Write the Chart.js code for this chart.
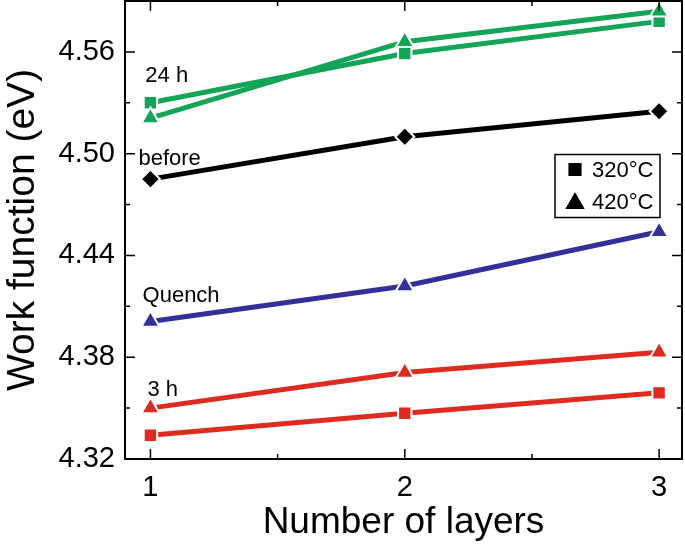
<!DOCTYPE html>
<html>
<head>
<meta charset="utf-8">
<script src="https://cdn.jsdelivr.net/npm/chart.js@4.4.0/dist/chart.umd.min.js"></script>
<style>
  html, body { margin: 0; padding: 0; background: #fff; }
  #wrap { width: 685px; height: 545px; }
</style>
</head>
<body>
<div id="wrap"><canvas id="wfChart"></canvas></div>
<script>
var layers = [1, 2, 3];
var xTicks = [1, 2, 3];
var yTicks = [4.32, 4.38, 4.44, 4.50, 4.56];

var h24_320 = [4.530, 4.559, 4.578];
var h24_420 = [4.521, 4.566, 4.584];
var before = [4.485, 4.510, 4.525];
var quench = [4.401, 4.422, 4.454];
var h3_420 = [4.350, 4.371, 4.383];
var h3_320 = [4.334, 4.347, 4.359];

// curve labels (text, x value, y value)
var curveLabels = [
    ['24 h', 0.98, 4.546],
    ['before', 0.953, 4.497],
    ['Quench', 0.969, 4.416],
    ['3 h', 0.988, 4.361]
];

var GREEN = '#13a457';
var BLUE = '#33309a';
var RED = '#dd2b1f';
var FONT = '"Liberation Sans", Arial, sans-serif';

function series(values, color, shape, r) {
    return {
        data: values.map(function (v, i) { return { x: layers[i], y: v }; }),
        borderColor: color,
        backgroundColor: color,
        borderWidth: 5,
        pointStyle: shape,
        pointRadius: r,
        pointHoverRadius: r,
        pointBackgroundColor: color,
        pointBorderColor: '#fff',
        pointBorderWidth: 2,
        tension: 0,
        clip: false
    };
}

function noPad(s) {
    s.paddingTop = 0; s.paddingBottom = 0; s.paddingLeft = 0; s.paddingRight = 0;
}

// inward ticks on all four sides, with minor ticks halfway
var frameTicks = {
    id: 'frameTicks',
    afterDraw: function (chart) {
        var ctx = chart.ctx, a = chart.chartArea;
        var xs = chart.scales.x, ys = chart.scales.y;
        ctx.save();
        ctx.strokeStyle = '#000';
        ctx.lineWidth = 2;
        ctx.strokeRect(a.left, a.top, a.right - a.left, a.bottom - a.top);
        ctx.lineWidth = 1.5;
        ctx.beginPath();
        yTicks.forEach(function (v, i) {
            var p = ys.getPixelForValue(v);
            ctx.moveTo(a.left, p); ctx.lineTo(a.left + 10, p);
            ctx.moveTo(a.right, p); ctx.lineTo(a.right - 10, p);
            var m = ys.getPixelForValue(v + 0.03);
            ctx.moveTo(a.left, m); ctx.lineTo(a.left + 5, m);
            ctx.moveTo(a.right, m); ctx.lineTo(a.right - 5, m);
        });
        xTicks.forEach(function (v, i) {
            var p = xs.getPixelForValue(v);
            ctx.moveTo(p, a.bottom); ctx.lineTo(p, a.bottom - 10);
            ctx.moveTo(p, a.top); ctx.lineTo(p, a.top + 10);
            if (i < xTicks.length - 1) {
                var m = xs.getPixelForValue(v + 0.5);
                ctx.moveTo(m, a.bottom); ctx.lineTo(m, a.bottom - 5);
                ctx.moveTo(m, a.top); ctx.lineTo(m, a.top + 5);
            }
        });
        ctx.stroke();

        // curve labels
        ctx.fillStyle = '#000';
        ctx.font = '22px ' + FONT;
        ctx.textBaseline = 'middle';
        ctx.textAlign = 'left';
        curveLabels.forEach(function (l) {
            ctx.fillText(l[0], xs.getPixelForValue(l[1]), ys.getPixelForValue(l[2]));
        });

        // legend box
        var bx = a.right - 127, by = ys.getPixelForValue(4.4995), bw = 105, bh = 63;
        ctx.lineWidth = 1.5;
        ctx.strokeRect(bx, by, bw, bh);
        Chart.helpers.drawPoint(ctx, { pointStyle: 'rect', radius: 9, borderWidth: 0 }, bx + 20, by + 15);
        ctx.fill();
        Chart.helpers.drawPoint(ctx, { pointStyle: 'triangle', radius: 11, borderWidth: 0 }, bx + 20, by + 49);
        ctx.fill();
        ctx.font = '22px ' + FONT;
        ctx.fillText('320\u00B0C', bx + 37, by + 16);
        ctx.fillText('420\u00B0C', bx + 37, by + 48);
        ctx.restore();
    }
};

new Chart('wfChart', {
    type: 'line',
    data: {
        datasets: [
            series(h3_320, RED, 'rect', 9.5),
            series(h3_420, RED, 'triangle', 10.5),
            series(quench, BLUE, 'triangle', 10.5),
            series(before, '#000', 'rectRot', 9.5),
            series(h24_420, GREEN, 'triangle', 10.5),
            series(h24_320, GREEN, 'rect', 9.5)
        ]
    },
    options: {
        responsive: true,
        maintainAspectRatio: false,
        animation: false,
        layout: { autoPadding: false, padding: { top: 1, right: 3, left: 0, bottom: 0 } },
        scales: {
            x: {
                type: 'linear',
                min: 0.9,
                max: 3.09,
                afterBuildTicks: function (s) { s.ticks = xTicks.map(function (v) { return { value: v }; }); },
                afterFit: function (s) { s.height = 86; noPad(s); },
                grid: { display: false, drawTicks: false },
                border: { display: false },
                ticks: {
                    padding: 12,
                    color: '#000',
                    font: { size: 29, family: FONT },
                    callback: function (v) { return v; }
                },
                title: {
                    display: true,
                    text: 'Number of layers',
                    color: '#000',
                    padding: { top: 0, bottom: 0 },
                    font: { size: 37, family: FONT }
                }
            },
            y: {
                type: 'linear',
                min: 4.32,
                max: 4.59,
                afterBuildTicks: function (s) { s.ticks = yTicks.map(function (v) { return { value: v }; }); },
                afterFit: function (s) { s.width = 125; noPad(s); },
                grid: { display: false, drawTicks: false },
                border: { display: false },
                ticks: {
                    padding: 10,
                    color: '#000',
                    font: { size: 29, family: FONT },
                    callback: function (v) { return v.toFixed(2); }
                },
                title: {
                    display: true,
                    text: 'Work function (eV)',
                    color: '#000',
                    padding: { top: 0, bottom: 0 },
                    font: { size: 39, family: FONT }
                }
            }
        },
        plugins: {
            legend: { display: false },
            tooltip: { enabled: false }
        }
    },
    plugins: [frameTicks]
});
</script>
</body>
</html>
